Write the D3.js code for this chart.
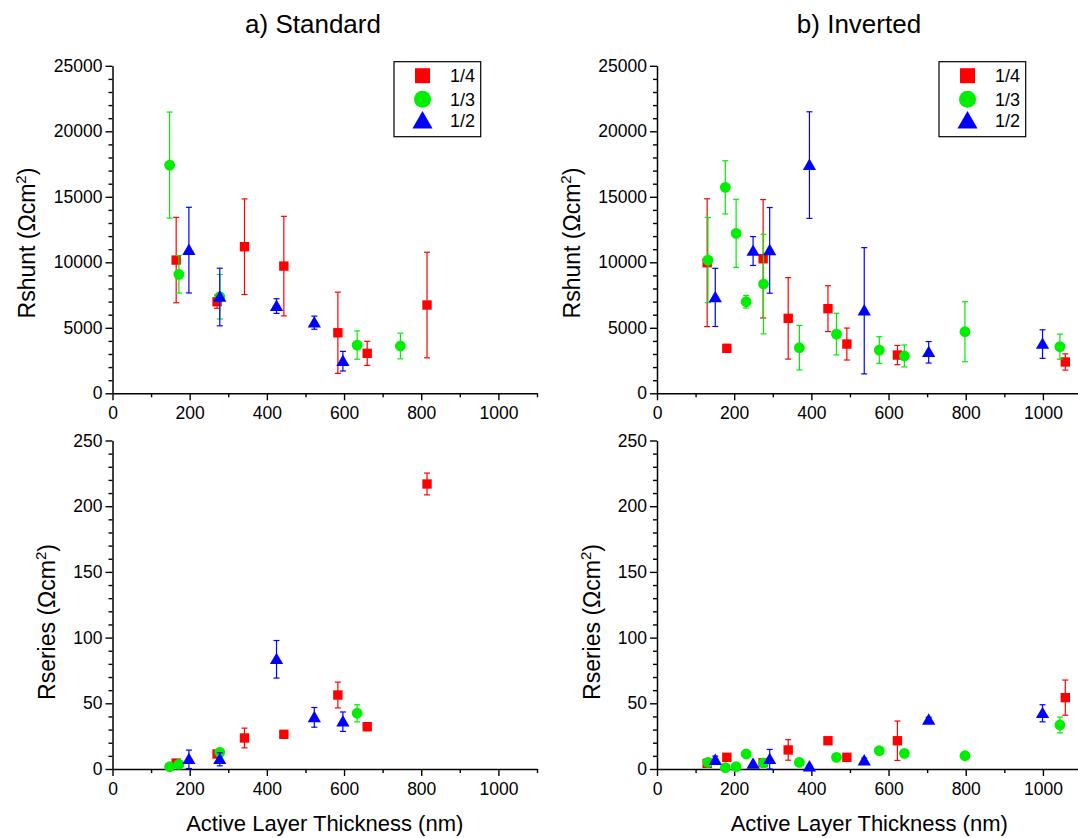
<!DOCTYPE html>
<html>
<head>
<meta charset="utf-8">
<script src="https://cdn.jsdelivr.net/npm/d3@7"></script>
<style>
  body { margin: 0; background: #fff; }
  text { font-family: Arial, "Liberation Sans", sans-serif; fill: #000; }
</style>
</head>
<body>
<div id="chart"></div>
<script>
// series names / colours
const seriesNames = ["1/4", "1/3", "1/2"];
const seriesColors = ["#ff0000", "#00ee00", "#0000ff"];

// a) Standard
const stdQuarterX = [165, 271, 342, 444, 584, 660, 815];
const stdQuarterShunt = [10170, 6990, 11190, 9710, 4620, 3050, 6740];
const stdQuarterShuntErr = [3260, 500, 3650, 3800, 3100, 920, 4030];
const stdQuarterSeries = [4.5, 11.4, 23.6, 26.4, 56.3, 32.2, 216.9];
const stdQuarterSeriesErr = [1, 1.5, 7.5, 1, 9.8, 3, 8.3];

const stdThirdX = [148, 172, 278, 634, 746];
const stdThirdShunt = [17420, 9080, 7370, 3680, 3610];
const stdThirdShuntErr = [4050, 1430, 1700, 1080, 980];
const stdThirdSeries = [1.7, 3.5, 12.7, 42.4, null];
const stdThirdSeriesErr = [0.5, 0.5, 3, 6.5, null];

const stdHalfX = [198, 278, 425, 523, 597];
const stdHalfShunt = [10930, 7350, 6660, 5390, 2450];
const stdHalfShuntErr = [3270, 2200, 560, 500, 750];
const stdHalfSeries = [7.4, 7.4, 83.5, 39.3, 36];
const stdHalfSeriesErr = [7, 5, 14.3, 7.5, 7.4];

// b) Inverted
const invQuarterX = [130, 181, 275, 340, 443, 492, 623, 1058];
const invQuarterShunt = [9970, 3430, 10270, 5720, 6460, 3760, 2920, 2390];
const invQuarterShuntErr = [4880, 300, 4520, 3110, 1750, 1220, 735, 620];
const invQuarterSeries = [4.3, 8.9, 4.8, 14.5, 21.5, 8.9, 21.5, 54.3];
const invQuarterSeriesErr = [1, 1, 1, 7.8, 2, 1, 15, 13.4];

const invThirdX = [132, 177, 205, 231, 276, 369, 465, 576, 641, 798, 1044];
const invThirdShunt = [10170, 15720, 12210, 6990, 8340, 3480, 4520, 3300, 2850, 4700, 3560];
const invThirdShuntErr = [3250, 2030, 2600, 480, 3800, 1700, 1590, 1020, 840, 2290, 960];
const invThirdSeries = [5.1, 1, 1.8, 11.4, 4.6, 5, 8.9, 14, 11.9, 10.1, 33.5];
const invThirdSeriesErr = [0.5, 0.5, 0.5, 1, 0.5, 0.5, 0.5, 1, 1, 1, 6];

const invHalfX = [151, 249, 292, 395, 537, 704, 999];
const invHalfShunt = [7320, 10860, 10910, 17420, 6300, 3130, 3760];
const invHalfShuntErr = [2220, 1100, 3270, 4070, 4820, 820, 1090];
const invHalfSeries = [6.8, 3.8, 7.4, 1.8, 6.3, 37.3, 42.4];
const invHalfSeriesErr = [3, 0.5, 7.5, 0.5, 2, 2, 6.5];

// tick values
const xMajorTicks = [0, 200, 400, 600, 800, 1000];
const xMinorTicks = [100, 300, 500, 700, 900, 1100];
const shuntMajorTicks = [0, 5000, 10000, 15000, 20000, 25000];
const seriesMajorTicks = [0, 50, 100, 150, 200, 250];

const width = 1078, height = 838;
const svg = d3.select("#chart").append("svg")
    .attr("width", width)
    .attr("height", height);

svg.append("rect").attr("width", width).attr("height", height).attr("fill", "#fff");

const xLeft = d3.scaleLinear().domain([0, 1100]).range([112.5, 537]);
const xRight = d3.scaleLinear().domain([0, 1100]).range([657, 1081.5]);
const yShunt = d3.scaleLinear().domain([0, 25000]).range([393.3, 65.8]);
const ySeries = d3.scaleLinear().domain([0, 250]).range([769, 440.5]);

const symbolTypes = [d3.symbolSquare, d3.symbolCircle, d3.symbolTriangle];
const symbolSizes = [88, 92, 76];

function styleAxis(g) {
    g.select(".domain").attr("stroke", "#000").attr("stroke-width", 1.5);
    g.selectAll(".tick line").attr("stroke", "#000").attr("stroke-width", 1.4);
    g.selectAll(".tick text").style("font-size", "17.5px").attr("fill", "#000");
}

function drawAxes(x, y, yMajor, yStep) {
    const yMin = y.domain()[0], yMax = y.domain()[1];
    const yMinor = d3.range(yMin, yMax + 0.001, yStep).filter(v => !yMajor.includes(v));

    // minor ticks first
    svg.append("g")
        .attr("transform", `translate(0,${y(0)})`)
        .call(d3.axisBottom(x).tickValues(xMinorTicks).tickSize(4).tickFormat(""))
        .call(g => g.select(".domain").remove())
        .call(styleAxis);
    svg.append("g")
        .attr("transform", `translate(${x(0)},0)`)
        .call(d3.axisLeft(y).tickValues(yMinor).tickSize(4).tickFormat(""))
        .call(g => g.select(".domain").remove())
        .call(styleAxis);

    // major ticks + labels
    svg.append("g")
        .attr("transform", `translate(0,${y(0)})`)
        .call(d3.axisBottom(x).tickValues(xMajorTicks).tickSize(7).tickSizeOuter(0).tickPadding(6.5).tickFormat(d3.format("d")))
        .call(styleAxis);
    svg.append("g")
        .attr("transform", `translate(${x(0)},0)`)
        .call(d3.axisLeft(y).tickValues(yMajor).tickSize(7).tickSizeOuter(0).tickPadding(3).tickFormat(d3.format("d")))
        .call(styleAxis);
}

function drawSeries(x, y, xs, ys, errs, idx) {
    const pts = xs.map((d, i) => ({ x: d, y: ys[i], e: errs[i] })).filter(d => d.y !== null);
    const color = seriesColors[idx];
    const g = svg.append("g");
    const yMin = y.domain()[0];

    // error bars
    pts.forEach(d => {
        const lo = y(Math.max(yMin, d.y - d.e)), hi = y(d.y + d.e);
        const cx = x(d.x);
        g.append("line").attr("x1", cx).attr("x2", cx).attr("y1", lo).attr("y2", hi)
            .attr("stroke", color).attr("stroke-width", 1.2);
        [lo, hi].forEach(v => {
            g.append("line").attr("x1", cx - 3).attr("x2", cx + 3).attr("y1", v).attr("y2", v)
                .attr("stroke", color).attr("stroke-width", 1.2);
        });
    });

    // markers
    g.selectAll("path.mark")
        .data(pts)
        .enter()
        .append("path")
        .attr("class", "mark")
        .attr("d", d3.symbol().type(symbolTypes[idx]).size(symbolSizes[idx]))
        .attr("transform", d => `translate(${x(d.x)},${y(d.y) + (idx === 2 ? 1 : 0)})`)
        .attr("fill", color);
}

function drawLegend(x0, y0) {
    svg.append("rect")
        .attr("x", x0).attr("y", y0)
        .attr("width", 86.7).attr("height", 75)
        .attr("fill", "#fff").attr("stroke", "#000").attr("stroke-width", 1.2);
    const rowY = [14, 37.6, 59];
    const legSizes = [225, 227, 175];
    seriesNames.forEach((name, i) => {
        svg.append("path")
            .attr("d", d3.symbol().type(symbolTypes[i]).size(legSizes[i]))
            .attr("transform", `translate(${x0 + 28.5},${y0 + rowY[i] + (i === 2 ? 2 : 0)})`)
            .attr("fill", seriesColors[i]);
        svg.append("text")
            .attr("x", x0 + 56).attr("y", y0 + rowY[i] + 6.5)
            .style("font-size", "18px")
            .text(name);
    });
}

function yTitle(x, y, label) {
    const t = svg.append("text")
        .attr("transform", `translate(${x},${y}) rotate(-90)`)
        .attr("text-anchor", "middle")
        .style("font-size", "23px");
    t.append("tspan").text(label + " (\u03A9cm");
    t.append("tspan").attr("dy", -9).style("font-size", "15px").text("2");
    t.append("tspan").attr("dy", 9).text(")");
}

// panels
const panels = [
    { x: xLeft, title: "a) Standard", tx: 313,
      q: [stdQuarterX, stdQuarterShunt, stdQuarterShuntErr, stdQuarterSeries, stdQuarterSeriesErr],
      t: [stdThirdX, stdThirdShunt, stdThirdShuntErr, stdThirdSeries, stdThirdSeriesErr],
      h: [stdHalfX, stdHalfShunt, stdHalfShuntErr, stdHalfSeries, stdHalfSeriesErr] },
    { x: xRight, title: "b) Inverted", tx: 859,
      q: [invQuarterX, invQuarterShunt, invQuarterShuntErr, invQuarterSeries, invQuarterSeriesErr],
      t: [invThirdX, invThirdShunt, invThirdShuntErr, invThirdSeries, invThirdSeriesErr],
      h: [invHalfX, invHalfShunt, invHalfShuntErr, invHalfSeries, invHalfSeriesErr] }
];

panels.forEach((p, pi) => {
    const off = pi * 545;
    drawAxes(p.x, yShunt, shuntMajorTicks, 1000);
    drawAxes(p.x, ySeries, seriesMajorTicks, 10);

    [p.q, p.t, p.h].forEach((s, i) => {
        drawSeries(p.x, yShunt, s[0], s[1], s[2], i);
        drawSeries(p.x, ySeries, s[0], s[3], s[4], i);
    });

    drawLegend(394 + off, 61.7);

    svg.append("text")
        .attr("x", p.tx).attr("y", 33)
        .attr("text-anchor", "middle")
        .style("font-size", "26px")
        .text(p.title);

    yTitle(35 + off, 243, "Rshunt");
    yTitle(55 + off, 622, "Rseries");

    svg.append("text")
        .attr("x", (p.x.range()[0] + p.x.range()[1]) / 2).attr("y", 831)
        .attr("text-anchor", "middle")
        .style("font-size", "22px")
        .text("Active Layer Thickness (nm)");
});
</script>
</body>
</html>
